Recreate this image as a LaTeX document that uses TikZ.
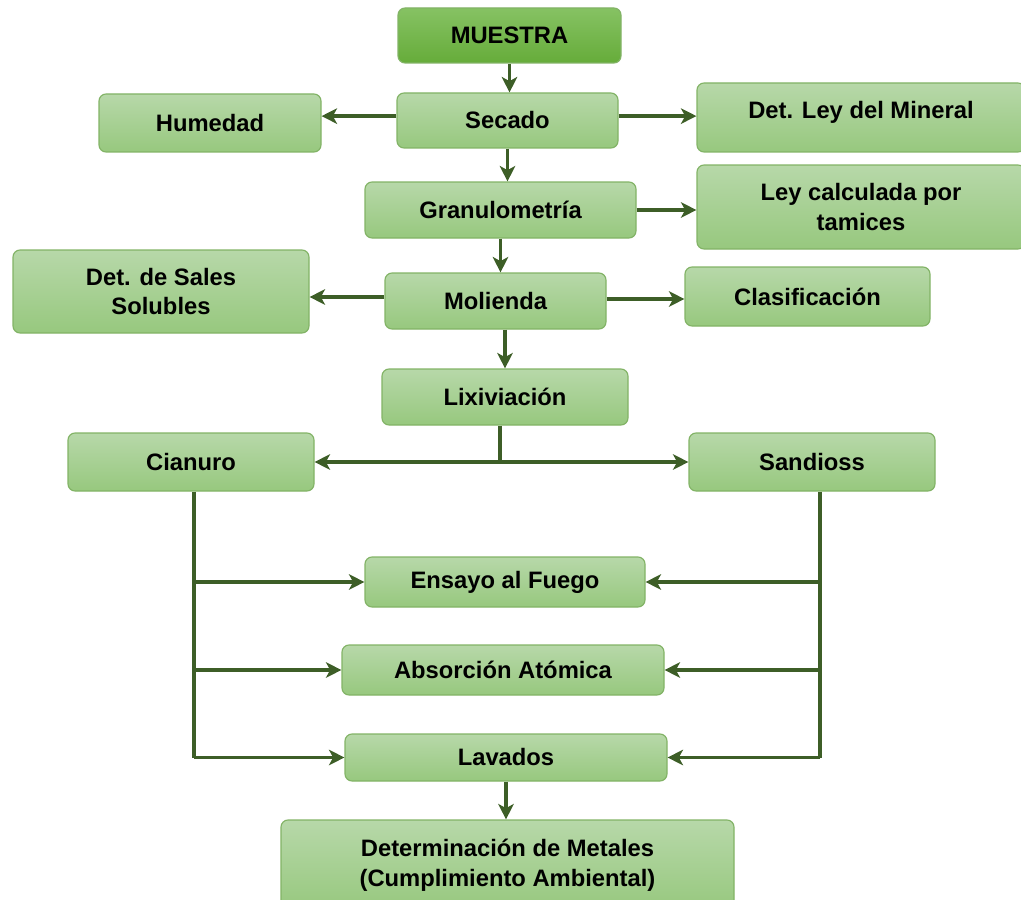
\documentclass[tikz,border=0pt]{standalone}
\usepackage{fontspec}
\setmainfont{Liberation Sans}
\usetikzlibrary{positioning, arrows.meta}

\definecolor{boxtop}{HTML}{B7D8A9}
\definecolor{boxbot}{HTML}{97C87E}
\definecolor{boxline}{HTML}{82B366}
\definecolor{maintop}{HTML}{86C263}
\definecolor{mainbot}{HTML}{66AC3A}
\definecolor{flow}{HTML}{3D5E27}

\begin{document}
\begin{tikzpicture}[x=0.025cm, y=-0.025cm,
		proc/.style = {draw=boxline, line width=0.8pt, rounded corners=5pt, top color=boxtop, bottom color=boxbot,
			align=center, font=\fontsize{16.9}{21.3}\selectfont\bfseries, inner sep=0pt},
		start/.style = {proc, top color=maintop, bottom color=mainbot},
		flowline/.style = {draw=flow, line width=2.7pt},
		arr/.style = {flowline, -{Stealth[length=11pt, width=11pt, inset=3pt]}}]
			\useasboundingbox (0,0) rectangle (1021,900);
			% process boxes
			\node[start, minimum width=223*0.025cm, minimum height=55*0.025cm] (muestra) at (509.5,35.5) {MUESTRA};
			\node[proc, minimum width=221*0.025cm, minimum height=55*0.025cm] (secado) at (507.5,120.5) {Secado};
			\node[proc, minimum width=222*0.025cm, minimum height=58*0.025cm] (humedad) at (210,123) {Humedad};
			\node[proc, minimum width=328*0.025cm, minimum height=69*0.025cm, text height=12pt, text depth=10pt] (detley) at (861,117.5) {Det. Ley del Mineral};
			\node[proc, minimum width=271*0.025cm, minimum height=56*0.025cm] (granulo) at (500.5,210) {Granulometría};
			\node[proc, minimum width=328*0.025cm, minimum height=84*0.025cm] (leycalc) at (861,207) {Ley calculada por\\tamices};
			\node[proc, minimum width=296*0.025cm, minimum height=83*0.025cm] (sales) at (161,291.5) {Det. de Sales\\Solubles};
			\node[proc, minimum width=221*0.025cm, minimum height=56*0.025cm] (molienda) at (495.5,301) {Molienda};
			\node[proc, minimum width=245*0.025cm, minimum height=59*0.025cm] (clasif) at (807.5,296.5) {Clasificación};
			\node[proc, minimum width=246*0.025cm, minimum height=56*0.025cm] (lixiv) at (505,397) {Lixiviación};
			\node[proc, minimum width=246*0.025cm, minimum height=58*0.025cm] (cianuro) at (191,462) {Cianuro};
			\node[proc, minimum width=246*0.025cm, minimum height=58*0.025cm] (sandioss) at (812,462) {Sandioss};
			\node[proc, minimum width=280*0.025cm, minimum height=50*0.025cm] (ensayo) at (505,582) {Ensayo al Fuego};
			\node[proc, minimum width=322*0.025cm, minimum height=50*0.025cm] (absorcion) at (503,670) {Absorción Atómica};
			\node[proc, minimum width=322*0.025cm, minimum height=47*0.025cm] (lavados) at (506,757.5) {Lavados};
			\node[proc, minimum width=453*0.025cm, minimum height=90*0.025cm] (detmet) at (507.5,865) {Determinación de Metales\\(Cumplimiento Ambiental)};
			% main line
			\draw[arr] (muestra.south) -- (muestra.south |- secado.north);
			\draw[arr] ([yshift=0.11cm]secado.west) -- ([yshift=0.11cm]secado.west -| humedad.east);
			\draw[arr] ([yshift=0.11cm]secado.east) -- ([yshift=0.11cm]secado.east -| detley.west);
			\draw[arr] (secado.south) -- (secado.south |- granulo.north);
			\draw[arr] (granulo.east) -- (granulo.east -| leycalc.west);
			\draw[arr] (granulo.south) -- (granulo.south |- molienda.north);
			\draw[arr] ([yshift=0.1cm]molienda.west) -- ([yshift=0.1cm]molienda.west -| sales.east);
			\draw[arr] ([yshift=0.05cm]molienda.east) -- ([yshift=0.05cm]molienda.east -| clasif.west);
			\draw[arr] (lixiv.north |- molienda.south) -- (lixiv.north);
			\coordinate (split) at ([xshift=-0.125cm]lixiv.south |- cianuro.east);
			\draw[flowline] ([xshift=-0.125cm]lixiv.south) -- (split);
			\draw[arr] (split) -- (cianuro.east);
			\draw[arr] (split) -- (sandioss.west);
			% cianuro branch
			\coordinate (cdown) at ([xshift=0.075cm]cianuro.south);
			\draw[flowline] (cdown) -- (cdown |- lavados.west);
			\draw[arr] (cdown |- ensayo.west) -- (ensayo.west);
			\draw[arr] (cdown |- absorcion.west) -- (absorcion.west);
			\draw[arr] (cdown |- lavados.west) -- (lavados.west);
			% sandioss branch
			\coordinate (sdown) at ([xshift=0.2cm]sandioss.south);
			\draw[flowline] (sdown) -- (sdown |- lavados.east);
			\draw[arr] (sdown |- ensayo.east) -- (ensayo.east);
			\draw[arr] (sdown |- absorcion.east) -- (absorcion.east);
			\draw[arr] (sdown |- lavados.east) -- (lavados.east);
			\draw[arr] (lavados.south) -- (lavados.south |- detmet.north);
		\end{tikzpicture}
\end{document}
